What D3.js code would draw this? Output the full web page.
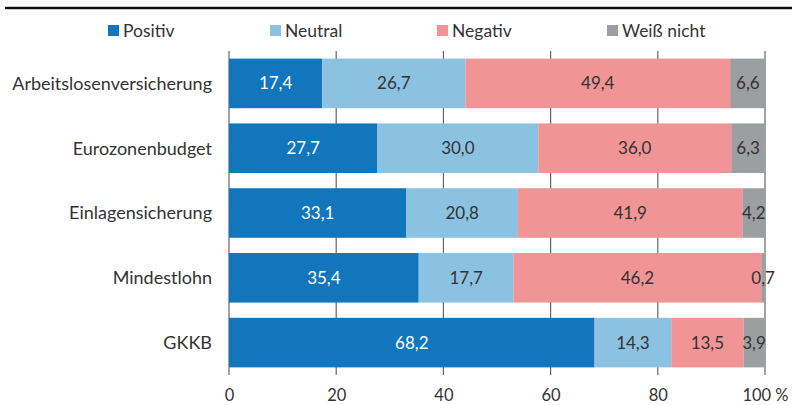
<!DOCTYPE html>
<html>
<head>
<meta charset="utf-8">
<script src="https://cdn.jsdelivr.net/npm/d3@7"></script>
<style>
  body { margin: 0; background: #fff; }
  svg { display: block; font-family: "Source Sans Pro", Lato, "Open Sans", sans-serif; }
</style>
</head>
<body>
<svg id="chart" width="792" height="405"></svg>
<script>
'use strict';

// Data
const categories = ['Arbeitslosenversicherung', 'Eurozonenbudget', 'Einlagensicherung', 'Mindestlohn', 'GKKB'];
const seriesNames = ['Positiv', 'Neutral', 'Negativ', 'Weiß nicht'];
const positiv = [17.4, 27.7, 33.1, 35.4, 68.2];
const neutral = [26.7, 30.0, 20.8, 17.7, 14.3];
const negativ = [49.4, 36.0, 41.9, 46.2, 13.5];
const weissNicht = [6.6, 6.3, 4.2, 0.7, 3.9];
const xTicks = [0, 20, 40, 60, 80, 100];

const colors = ['#1176bc', '#8cc2e1', '#f09495', '#9c9e9f'];
const labelColors = ['#fff', '#333', '#333', '#333'];

const svg = d3.select('#chart');

const x = d3.scaleLinear().domain([0, 100]).range([229, 765]);
const y = d3.scaleBand().domain(categories).range([51, 375])
    .paddingInner(0.235).paddingOuter(0.1175);

// Top rule
svg.append('line')
    .attr('x1', 5).attr('x2', 792).attr('y1', 8).attr('y2', 8)
    .attr('stroke', '#111').attr('stroke-width', 2.5);

// Gridlines behind the bars
svg.append('g').selectAll('line')
    .data(xTicks)
    .enter()
    .append('line')
    .attr('x1', d => x(d)).attr('x2', d => x(d))
    .attr('y1', 51).attr('y2', 375)
    .attr('stroke', '#666').attr('stroke-width', 1.2);

// Stack the series
const rows = categories.map((c, i) => ({
    cat: c,
    'Positiv': positiv[i],
    'Neutral': neutral[i],
    'Negativ': negativ[i],
    'Weiß nicht': weissNicht[i]
}));
const stacked = d3.stack().keys(seriesNames)(rows);

const layers = svg.append('g').selectAll('g')
    .data(stacked)
    .enter()
    .append('g')
    .attr('fill', (_, i) => colors[i]);

layers.selectAll('rect')
    .data(d => d)
    .enter()
    .append('rect')
    .attr('x', d => x(d[0]))
    .attr('y', d => y(d.data.cat))
    .attr('width', d => x(d[1]) - x(d[0]))
    .attr('height', y.bandwidth());

const fmt = v => d3.format('.1f')(v).replace('.', ',');

svg.append('g').selectAll('g')
    .data(stacked)
    .enter()
    .append('g')
    .attr('fill', (_, i) => labelColors[i])
    .selectAll('text')
    .data(d => d.map(p => ({ p, key: d.key })))
    .enter()
    .append('text')
    .attr('x', d => (x(d.p[0]) + x(d.p[1])) / 2)
    .attr('y', d => y(d.p.data.cat) + y.bandwidth() / 2)
    .attr('dy', '0.35em')
    .attr('text-anchor', 'middle')
    .attr('font-size', 17)
    .text(d => fmt(d.p.data[d.key]));

// Category labels
svg.append('g').selectAll('text')
    .data(categories)
    .enter()
    .append('text')
    .attr('x', 212)
    .attr('y', d => y(d) + y.bandwidth() / 2)
    .attr('dy', '0.35em')
    .attr('text-anchor', 'end')
    .attr('font-size', 18)
    .attr('fill', '#333')
    .text(d => d);

// Bottom axis (labels only)
const xAxis = d3.axisBottom(x)
    .tickValues(xTicks)
    .tickSize(0)
    .tickPadding(14)
    .tickFormat(d => d === 100 ? '100 %' : d);
const axisG = svg.append('g')
    .attr('transform', 'translate(0,375)')
    .call(xAxis);
axisG.select('.domain').remove();
axisG.selectAll('text')
    .attr('font-size', 16.5)
    .attr('font-family', '"Source Sans Pro", Lato, "Open Sans", sans-serif')
    .attr('fill', '#333');

// Legend
const legendX = [108, 270, 437, 607];
const legend = svg.append('g').selectAll('g')
    .data(seriesNames)
    .enter()
    .append('g')
    .attr('transform', (_, i) => `translate(${legendX[i]},25)`);
legend.append('rect')
    .attr('width', 11).attr('height', 11)
    .attr('fill', (_, i) => colors[i]);
legend.append('text')
    .attr('x', 15).attr('y', 5.5)
    .attr('dy', '0.35em')
    .attr('font-size', 17.5)
    .attr('fill', '#333')
    .text(d => d);
</script>
</body>
</html>
